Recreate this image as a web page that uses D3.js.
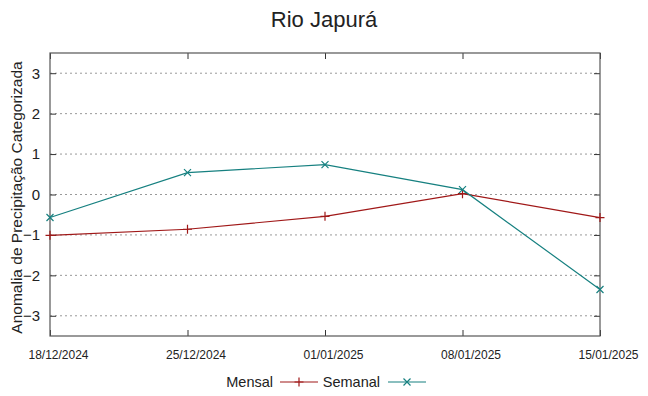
<!DOCTYPE html>
<meta charset="utf-8">
<style>
    body { margin: 0; background: #fff; }
    text { font-family: "Liberation Sans", Arial, sans-serif; fill: #222; }
    .grid line { stroke: #999; stroke-dasharray: 2,3; stroke-width: 1px; }
    .line { fill: none; stroke-width: 1.2px; }
</style>
<body>
<script src="https://cdnjs.cloudflare.com/ajax/libs/d3/7.8.5/d3.min.js"></script>
<script>
    // data
    var dates = ["18/12/2024", "25/12/2024", "01/01/2025", "08/01/2025", "15/01/2025"];
    var mensal = [-1.01, -0.86, -0.54, 0.02, -0.57];
    var semanal = [-0.57, 0.54, 0.74, 0.12, -2.35];
    var yTicks = [-3, -2, -1, 0, 1, 2, 3];

    var margin = {top: 53, right: 48, bottom: 60, left: 50},
        width = 648 - margin.left - margin.right,
        height = 396 - margin.top - margin.bottom;

    var parseDate = d3.timeParse("%d/%m/%Y");
    var x = d3.scaleTime().domain(d3.extent(dates, parseDate)).range([0, width]);
    var y = d3.scaleLinear().domain([-3.5, 3.5]).range([height, 0]);

    var svgRoot = d3.select("body").append("svg").attr("width", 648).attr("height", 396);
    var svg = svgRoot.append("g").attr("transform", "translate(" + margin.left + "," + margin.top + ")");

    // title
    svgRoot.append("text").text("Rio Japurá").attr("x", 324).attr("y", 27)
        .attr("text-anchor", "middle").style("font-size", "22px");

    // grid
    svg.append("g").attr("class", "grid").selectAll("line").data(yTicks).enter().append("line")
        .attr("x1", 0).attr("x2", width)
        .attr("y1", function(d) { return y(d); }).attr("y2", function(d) { return y(d); });

    // axes
    var yAxis = svg.append("g").call(d3.axisLeft(y).tickValues(yTicks).tickSize(-6).tickPadding(10).tickFormat(d3.format("d")));
    var yAxisR = svg.append("g").attr("transform", "translate(" + width + ",0)")
        .call(d3.axisRight(y).tickValues(yTicks).tickSize(-6).tickFormat(""));
    var xTickVals = dates.map(parseDate);
    var xAxis = svg.append("g").attr("transform", "translate(0," + height + ")")
        .call(d3.axisBottom(x).tickValues(xTickVals).tickSize(-6).tickPadding(14).tickFormat(d3.timeFormat("%d/%m/%Y")));
    var xAxisT = svg.append("g").call(d3.axisTop(x).tickValues(xTickVals).tickSize(-6).tickFormat(""));

    [yAxis, yAxisR, xAxis, xAxisT].forEach(function(a) {
        a.select(".domain").remove();
        a.selectAll("line").attr("stroke", "#333");
    });
    yAxis.selectAll("text").style("font-size", "15px").attr("fill", "#222").style("font-family", "Liberation Sans, Arial, sans-serif");
    xAxis.selectAll("text").style("font-size", "12px").attr("fill", "#222")
        .style("font-family", "Liberation Sans Narrow, Liberation Sans, Arial, sans-serif")
        .attr("dx", 8);

    svg.append("rect").attr("width", width).attr("height", height)
        .attr("fill", "none").attr("stroke", "#555").attr("stroke-width", 1.2);

    // y label
    svg.append("text").text("Anomalia de Precipitação Categorizada")
        .attr("transform", "translate(-28," + (height / 2 + 3) + ") rotate(-90)")
        .attr("text-anchor", "middle").style("font-size", "15.5px");

    var line = d3.line()
        .x(function(d, i) { return x(parseDate(dates[i])); })
        .y(function(d) { return y(d); });

    var series = [
        {name: "Mensal", values: mensal, color: "#a01818", sym: "plus"},
        {name: "Semanal", values: semanal, color: "#168080", sym: "cross"}
    ];

    function symbolPath(sym, s) {
        if (sym === "plus") return "M" + (-s) + ",0H" + s + "M0," + (-s) + "V" + s;
        return "M" + (-s) + "," + (-s) + "L" + s + "," + s + "M" + (-s) + "," + s + "L" + s + "," + (-s);
    }

    series.forEach(function(s) {
        svg.append("path").datum(s.values).attr("class", "line").attr("stroke", s.color).attr("d", line);
        svg.selectAll(".pt-" + s.name).data(s.values).enter().append("path")
            .attr("transform", function(d, i) { return "translate(" + x(parseDate(dates[i])) + "," + y(d) + ")"; })
            .attr("d", symbolPath(s.sym, s.sym === "plus" ? 4.5 : 3.5))
            .attr("stroke", s.color).attr("fill", "none").attr("stroke-width", 1.2);
    });

    // legend
    var legend = svgRoot.append("g").attr("transform", "translate(0,382)");
    var legendPos = [{tx: 273, lx1: 280, lx2: 318}, {tx: 380, lx1: 388, lx2: 426}];
    series.forEach(function(s, i) {
        var p = legendPos[i];
        legend.append("text").text(s.name).attr("x", p.tx).attr("y", 5)
            .attr("text-anchor", "end").style("font-size", "14.5px");
        legend.append("line").attr("x1", p.lx1).attr("x2", p.lx2).attr("y1", 0).attr("y2", 0)
            .attr("stroke", s.color).attr("stroke-width", 1.2);
        legend.append("path").attr("transform", "translate(" + ((p.lx1 + p.lx2) / 2) + ",0)")
            .attr("d", symbolPath(s.sym, s.sym === "plus" ? 4.5 : 3.5))
            .attr("stroke", s.color).attr("fill", "none").attr("stroke-width", 1.2);
    });
</script>
</body>
